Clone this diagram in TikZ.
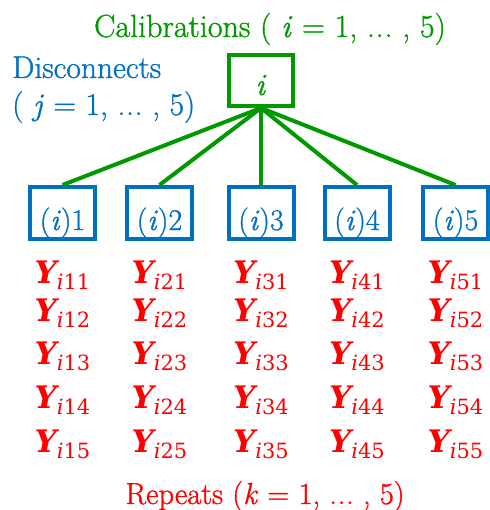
\documentclass[tikz,border=0pt]{standalone}
\usepackage{fontspec}
\newfontfamily\lmfb{Latin Modern Roman}[FakeBold=1.1]
\newfontfamily\yfont{DejaVu Serif}
\definecolor{cgreen}{RGB}{0,153,0}
\definecolor{cblue}{RGB}{0,112,192}
\definecolor{cred}{RGB}{255,0,0}
\newcommand{\mydots}{\makebox[0.8em][s]{.\hfill.\hfill.}}
\newcommand{\ylabel}[2]{{\yfont\fontsize{31}{31}\selectfont\bfseries\itshape Y}\raisebox{-6pt}{\yfont\fontsize{21}{21}\selectfont\itshape i\upshape #1#2}}
\begin{document}
\begin{tikzpicture}[x=1pt,y=-1pt,
  gbox/.style={draw=cgreen,line width=4pt,minimum width=64pt,minimum height=51pt,inner sep=0pt},
  bbox/.style={draw=cblue,line width=4pt,minimum width=65pt,minimum height=52pt,inner sep=0pt},
  link/.style={draw=cgreen,line width=4pt},
  gtext/.style={anchor=base,inner sep=0pt,text=cgreen,font=\lmfb\fontsize{32}{32}\selectfont},
  btext/.style={anchor=base,inner sep=0pt,text=cblue,font=\lmfb\fontsize{30}{30}\selectfont},
  ttext/.style={anchor=base west,inner sep=0pt,text=cblue,font=\lmfb\fontsize{31.5}{31.5}\selectfont},
  rtext/.style={anchor=base,inner sep=0pt,text=cred,font=\lmfb\fontsize{30.5}{30.5}\selectfont},
  ylab/.style={anchor=base,inner sep=0pt,text=cred},
  ]
\useasboundingbox (0,0) rectangle (489,510);
% titles
\node[gtext] (caltitle) at (270,37) {Calibrations (\ \textit{i} = 1, \mydots\ , 5)};
\node[ttext] (disc1) at (12,78) {Disconnects};
\node[ttext] (disc2) at (12,115) {(\ \textit{j} = 1, \mydots\ , 5)};
\node[rtext] (rep) at (265,504) {Repeats (\textit{k} = 1, \mydots\ , 5)};
% top box
\node[gbox] (cal) at (261,80.5) {};
\node[gtext,font=\lmfb\fontsize{31}{31}\selectfont] (calt) at (261,95) {\textit{i}};
% lower boxes
\foreach \j/\x in {1/62.5,2/159.5,3/261,4/357,5/455.5}{
  \node[bbox] (d\j) at (\x,213) {};
  \node[btext] (t\j) at (\x,230) {(\textit{i})\j};
  \draw[link] (cal.south) -- (d\j.north);
  \foreach \k/\yy in {1/283,2/321,3/364,4/408,5/452}{
    \node[ylab] (y\j\k) at (\x,\yy) {\ylabel{\j}{\k}};
  }
}
\end{tikzpicture}
\end{document}
